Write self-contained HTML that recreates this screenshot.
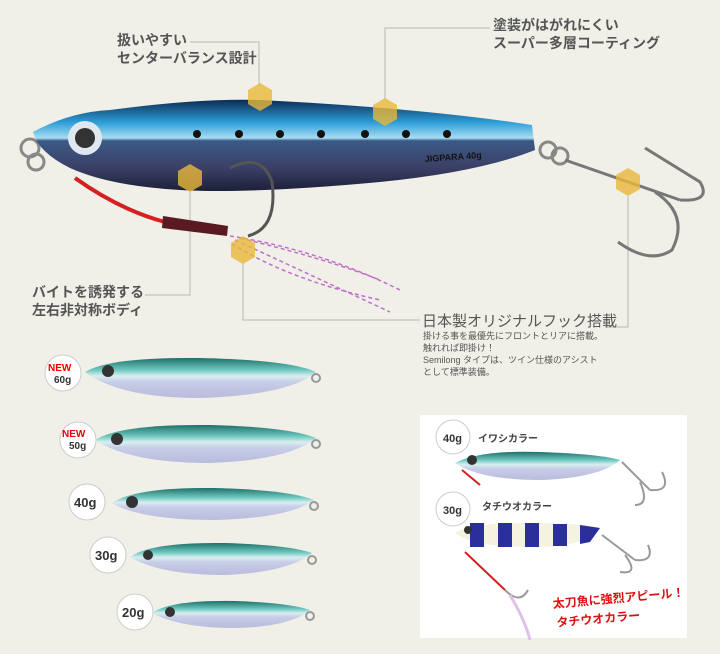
<!DOCTYPE html>
<html><head><meta charset="utf-8"><style>
html,body{margin:0;padding:0;background:#f0efe8;}
svg{display:block;}
text{font-family:"Liberation Sans","Noto Sans CJK JP",sans-serif;}
</style></head><body>
<svg width="720" height="654" viewBox="0 0 720 654" xmlns="http://www.w3.org/2000/svg">
<defs>
<linearGradient id="bl" x1="0" y1="0" x2="0" y2="1">
<stop offset="0" stop-color="#0d2a55"/><stop offset="0.25" stop-color="#2f9ed8"/><stop offset="0.42" stop-color="#a8dcf2"/><stop offset="0.45" stop-color="#3b5a86"/><stop offset="0.75" stop-color="#3b3f66"/><stop offset="1" stop-color="#1c2038"/>
</linearGradient>
<linearGradient id="gr" x1="0" y1="0" x2="0" y2="1">
<stop offset="0" stop-color="#1d6f6a"/><stop offset="0.3" stop-color="#6fc9c0"/><stop offset="0.45" stop-color="#d8eef0"/><stop offset="0.6" stop-color="#c8cde8"/><stop offset="1" stop-color="#b9bcdc"/>
</linearGradient>
<g id="hex"><polygon points="0,-14 12,-7 12,7 0,14 -12,7 -12,-7" fill="#e8b83a" opacity="0.8"/></g>
</defs>

<g stroke="#b8b8b0" stroke-width="1" fill="none">
<polyline points="190,42 259,42 259,85"/>
<polyline points="490,28 385,28 385,100"/>
<polyline points="145,295 190,295 190,190"/>
<polyline points="243,262 243,320 420,320"/>
<polyline points="628,196 628,327 605,327"/>
</g>

<g font-weight="bold" font-size="14" fill="#555">
<text x="117" y="45">扱いやすい</text>
<text x="117" y="63">センターバランス設計</text>
<text x="493" y="30">塗装がはがれにくい</text>
<text x="493" y="48">スーパー多層コーティング</text>
<text x="32" y="297">バイトを誘発する</text>
<text x="32" y="315">左右非対称ボディ</text>
</g>
<text x="422" y="326" font-size="15" fill="#555">日本製オリジナルフック搭載</text>
<g font-size="9" fill="#555">
<text x="423" y="339">掛ける事を最優先にフロントとリアに搭載。</text>
<text x="423" y="351">触れれば即掛け！</text>
<text x="423" y="363">Semilong タイプは、ツイン仕様のアシスト</text>
<text x="423" y="375">として標準装備。</text>
</g>

<g fill="none" stroke="#888" stroke-width="3">
<circle cx="30" cy="148" r="9"/><circle cx="36" cy="162" r="8"/>
<circle cx="548" cy="150" r="8"/><circle cx="560" cy="156" r="8"/>
</g>
<path d="M33,132 Q70,112 110,110 Q200,98 260,100 Q420,108 532,125 L535,150 Q480,172 380,182 Q250,194 180,190 Q110,186 70,168 Q38,152 33,132Z" fill="url(#bl)"/>
<circle cx="85" cy="138" r="17" fill="#dfe8f0"/><circle cx="85" cy="138" r="10" fill="#333"/>
<g fill="#111"><circle cx="197" cy="134" r="4"/><circle cx="239" cy="134" r="4"/><circle cx="280" cy="134" r="4"/><circle cx="321" cy="134" r="4"/><circle cx="365" cy="134" r="4"/><circle cx="406" cy="134" r="4"/><circle cx="447" cy="134" r="4"/></g>
<text x="425" y="162" font-size="9" font-weight="bold" fill="#111" transform="rotate(-4 425 162)">JIGPARA 40g</text>
<path d="M230,168 Q262,152 272,182 Q278,228 248,236" fill="none" stroke="#555" stroke-width="3"/>
<g fill="none" stroke="#777" stroke-width="3">
<path d="M565,160 L680,200"/>
<path d="M680,200 Q712,202 700,182 L645,148"/>
<path d="M655,192 Q690,215 672,250 Q650,265 618,242"/>
</g>
<path d="M75,178 Q120,210 165,222" fill="none" stroke="#d42020" stroke-width="4"/>
<path d="M163,216 L228,226 L227,236 L162,228Z" fill="#5a1a22"/>
<g stroke="#c070c8" stroke-width="1.5" stroke-dasharray="4 3" fill="none">
<path d="M230,236 Q320,250 400,290"/><path d="M235,240 Q300,270 390,312"/><path d="M232,244 Q290,280 380,300"/><path d="M240,238 Q330,260 380,280"/>
</g>
<use href="#hex" x="260" y="97"/><use href="#hex" x="385" y="112"/><use href="#hex" x="190" y="178"/><use href="#hex" x="243" y="250"/><use href="#hex" x="628" y="182"/>

<g>
<path d="M85,372 Q110,357 200,358 Q290,360 316,372 Q290,395 200,398 Q120,398 85,372Z" fill="url(#gr)"/>
<circle cx="316" cy="378" r="4" fill="none" stroke="#999" stroke-width="2"/>
<circle cx="108" cy="371" r="6" fill="#333"/>
<circle cx="63" cy="373" r="18" fill="#fff" stroke="#ccc"/>
<text x="48" y="371" font-size="10" font-weight="bold" fill="#e00">NEW</text>
<text x="54" y="383" font-size="10" font-weight="bold" fill="#333">60g</text>

<path d="M95,440 Q120,424 210,425 Q290,427 316,438 Q290,460 210,463 Q130,463 95,440Z" fill="url(#gr)"/>
<circle cx="316" cy="444" r="4" fill="none" stroke="#999" stroke-width="2"/>
<circle cx="117" cy="439" r="6" fill="#333"/>
<circle cx="78" cy="440" r="18" fill="#fff" stroke="#ccc"/>
<text x="62" y="437" font-size="10" font-weight="bold" fill="#e00">NEW</text>
<text x="69" y="449" font-size="10" font-weight="bold" fill="#333">50g</text>

<path d="M112,503 Q135,487 215,488 Q290,490 314,500 Q290,518 215,520 Q140,520 112,503Z" fill="url(#gr)"/>
<circle cx="314" cy="506" r="4" fill="none" stroke="#999" stroke-width="2"/>
<circle cx="132" cy="502" r="6" fill="#333"/>
<circle cx="87" cy="502" r="18" fill="#fff" stroke="#ccc"/>
<text x="74" y="507" font-size="13" font-weight="bold" fill="#333">40g</text>

<path d="M130,557 Q150,542 225,543 Q290,545 312,553 Q290,572 225,575 Q160,575 130,557Z" fill="url(#gr)"/>
<circle cx="312" cy="560" r="4" fill="none" stroke="#999" stroke-width="2"/>
<circle cx="148" cy="555" r="5" fill="#333"/>
<circle cx="108" cy="555" r="18" fill="#fff" stroke="#ccc"/>
<text x="95" y="560" font-size="13" font-weight="bold" fill="#333">30g</text>

<path d="M152,613 Q170,600 235,601 Q290,603 310,610 Q290,627 235,628 Q180,628 152,613Z" fill="url(#gr)"/>
<circle cx="310" cy="616" r="4" fill="none" stroke="#999" stroke-width="2"/>
<circle cx="170" cy="612" r="5" fill="#333"/>
<circle cx="135" cy="612" r="18" fill="#fff" stroke="#ccc"/>
<text x="122" y="617" font-size="13" font-weight="bold" fill="#333">20g</text>
</g>

<rect x="420" y="415" width="267" height="223" fill="#fff"/>
<path d="M455,463 Q480,450 540,452 Q600,454 620,460 Q600,478 540,480 Q480,480 455,463Z" fill="url(#gr)"/>
<circle cx="472" cy="460" r="5" fill="#333"/>
<g fill="none" stroke="#999" stroke-width="2">
<path d="M622,462 L650,490"/><path d="M650,490 Q672,492 662,472"/><path d="M640,482 Q650,505 635,505"/>
</g>
<path d="M462,470 L480,485" stroke="#d42020" stroke-width="2"/>
<circle cx="453" cy="437" r="17" fill="#fff" stroke="#ccc"/>
<text x="443" y="442" font-size="11" font-weight="bold" fill="#333">40g</text>
<text x="478" y="442" font-size="10" font-weight="bold" fill="#444">イワシカラー</text>

<path d="M455,533 Q470,522 540,523 Q585,524 600,528 Q590,545 540,547 Q475,548 455,533Z" fill="#f4f3e0"/>
<g fill="#2a2f9a"><rect x="470" y="523" width="14" height="24"/><rect x="498" y="523" width="14" height="24"/><rect x="525" y="523" width="14" height="24"/><rect x="553" y="524" width="14" height="22"/><path d="M580,525 L600,528 L590,542 L580,544Z"/></g>
<circle cx="468" cy="530" r="4" fill="#333"/>
<g fill="none" stroke="#999" stroke-width="2">
<path d="M602,535 L635,560"/><path d="M635,560 Q655,562 648,545"/><path d="M625,555 Q640,575 620,572"/>
</g>
<path d="M465,552 L505,590" stroke="#d42020" stroke-width="2"/>
<path d="M505,590 Q520,605 528,590" fill="none" stroke="#999" stroke-width="2"/>
<path d="M510,595 Q525,620 530,640" fill="none" stroke="#e0c0e8" stroke-width="3"/>
<circle cx="453" cy="509" r="17" fill="#fff" stroke="#ccc"/>
<text x="443" y="514" font-size="11" font-weight="bold" fill="#333">30g</text>
<text x="482" y="510" font-size="10" font-weight="bold" fill="#444">タチウオカラー</text>
<g font-size="12" font-weight="bold" fill="#e01010" transform="rotate(-5 553 606)">
<text x="553" y="608">太刀魚に強烈アピール！</text>
<text x="555" y="627">タチウオカラー</text>
</g>
</svg>
</body></html>
